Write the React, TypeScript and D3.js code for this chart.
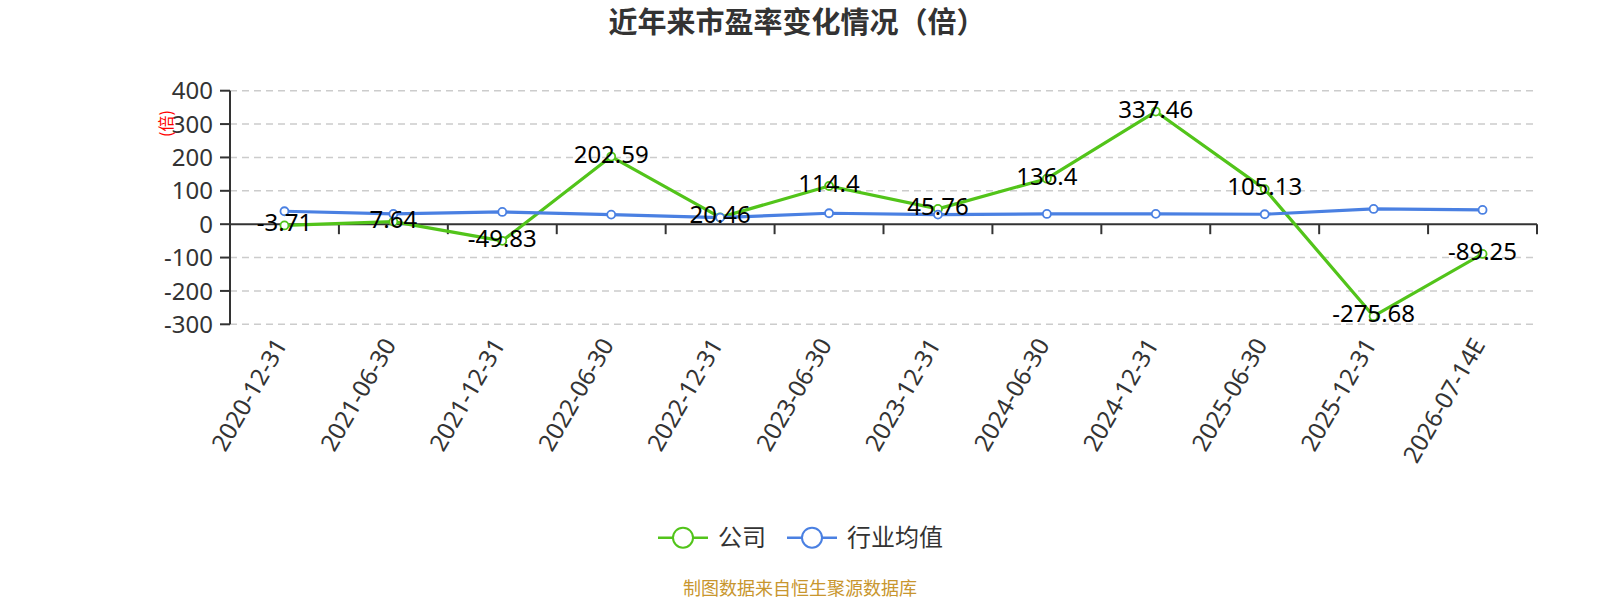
import * as d3 from 'd3';

const categories = [
  '2020-12-31', '2021-06-30', '2021-12-31', '2022-06-30', '2022-12-31', '2023-06-30',
  '2023-12-31', '2024-06-30', '2024-12-31', '2025-06-30', '2025-12-31', '2026-07-14E',
];
// 公司市盈率
const companyPE = [-3.71, 7.64, -49.83, 202.59, 20.46, 114.4, 45.76, 136.4, 337.46, 105.13, -275.68, -89.25];
// 行业均值
const industryPE = [38.8, 30.7, 36.7, 28.7, 19.8, 32.8, 28.7, 30.7, 31, 29.8, 45.7, 42.7];
const yTicks = [-300, -200, -100, 0, 100, 200, 300, 400];

const W = 1600;
const H = 600;
const margin = { left: 230, right: 63, top: 90.7, bottom: 275.7 };

const GREEN = '#52c41a';
const BLUE = '#4a80e2';
const NUM_FONT = "'Noto Sans', sans-serif";
const CJK_FONT = "'Noto Sans CJK SC', sans-serif";

export default function App() {
  const x = d3.scaleBand<string>().domain(categories).range([margin.left, W - margin.right]);
  const y = d3.scaleLinear().domain([-300, 400]).range([H - margin.bottom, margin.top]);
  const cx = (c: string) => x(c)! + x.bandwidth() / 2;

  const line = d3
    .line<number>()
    .x((_, i) => cx(categories[i]))
    .y((d) => y(d));

  const y0 = y(0);
  const boundaries = categories.map((c) => x(c)!).concat([W - margin.right]);

  const series = [
    { name: '公司', data: companyPE, color: GREEN },
    { name: '行业均值', data: industryPE, color: BLUE },
  ];

  return (
    <svg width={W} height={H} style={{ position: 'absolute', left: 0, top: 0 }}>
      <rect width={W} height={H} fill="#fff" />
      {/* 标题 */}
      <text x={797} y={33} textAnchor="middle" fontFamily={CJK_FONT} fontWeight="bold" fontSize={29} fill="#333">
        近年来市盈率变化情况（倍）
      </text>

      {/* 网格线 */}
      {yTicks
        .filter((t) => t !== 0)
        .map((t) => (
          <line key={t} x1={margin.left} x2={W - margin.right} y1={y(t)} y2={y(t)} stroke="#ccc" strokeWidth={1.5} strokeDasharray="7,5" />
        ))}

      {/* y 轴 */}
      <line x1={margin.left} x2={margin.left} y1={y(400)} y2={y(-300)} stroke="#333" strokeWidth={2} />
      {yTicks.map((t) => (
        <g key={t}>
          <line x1={margin.left - 10} x2={margin.left} y1={y(t)} y2={y(t)} stroke="#333" strokeWidth={2} />
          <text x={margin.left - 17} y={y(t)} dy="0.36em" textAnchor="end" fontFamily={NUM_FONT} fontSize={24} fill="#333">
            {t}
          </text>
        </g>
      ))}
      <text
        transform={`translate(166,123.5) rotate(-90)`}
        textAnchor="middle"
        dy="0.35em"
        fontFamily={CJK_FONT}
        fontSize={16}
        fill="#f00"
      >
        (倍)
      </text>

      {/* x 轴 */}
      <line x1={margin.left} x2={W - margin.right} y1={y0} y2={y0} stroke="#333" strokeWidth={2} />
      {boundaries.map((b, i) => (
        <line key={i} x1={b} x2={b} y1={y0} y2={y0 + 10} stroke="#333" strokeWidth={2} />
      ))}
      {categories.map((c) => (
        <text
          key={c}
          transform={`translate(${cx(c) - 4},${H - margin.bottom + 16}) rotate(-60)`}
          textAnchor="end"
          dy="0.36em"
          fontFamily={NUM_FONT}
          fontSize={24}
          fill="#333"
        >
          {c}
        </text>
      ))}

      {/* 折线 */}
      {series.map((s) => (
        <path key={s.name} d={line(s.data)!} fill="none" stroke={s.color} strokeWidth={3.2} strokeLinejoin="round" />
      ))}
      {series.map((s) =>
        s.data.map((v, i) => (
          <circle key={s.name + i} cx={cx(categories[i])} cy={y(v)} r={4} fill="#fff" stroke={s.color} strokeWidth={1.8} />
        ))
      )}

      {/* 数据标签 */}
      {companyPE.map((v, i) => (
        <text key={i} x={cx(categories[i])} y={y(v) + 6} textAnchor="middle" fontFamily={NUM_FONT} fontSize={24} fill="#000">
          {v}
        </text>
      ))}

      {/* 图例 */}
      {[
        { s: series[0], x0: 658, tx: 718 },
        { s: series[1], x0: 787, tx: 847 },
      ].map(({ s, x0, tx }) => (
        <g key={s.name}>
          <line x1={x0} x2={x0 + 50} y1={537.7} y2={537.7} stroke={s.color} strokeWidth={2.5} />
          <circle cx={x0 + 25} cy={537.7} r={10} fill="#fff" stroke={s.color} strokeWidth={2} />
          <text x={tx} y={537.7} dy="0.36em" fontFamily={CJK_FONT} fontSize={24} fill="#333">
            {s.name}
          </text>
        </g>
      ))}

      {/* 数据来源 */}
      <text x={800} y={595} textAnchor="middle" fontFamily={CJK_FONT} fontSize={18} fill="#c8962e">
        制图数据来自恒生聚源数据库
      </text>
    </svg>
  );
}
